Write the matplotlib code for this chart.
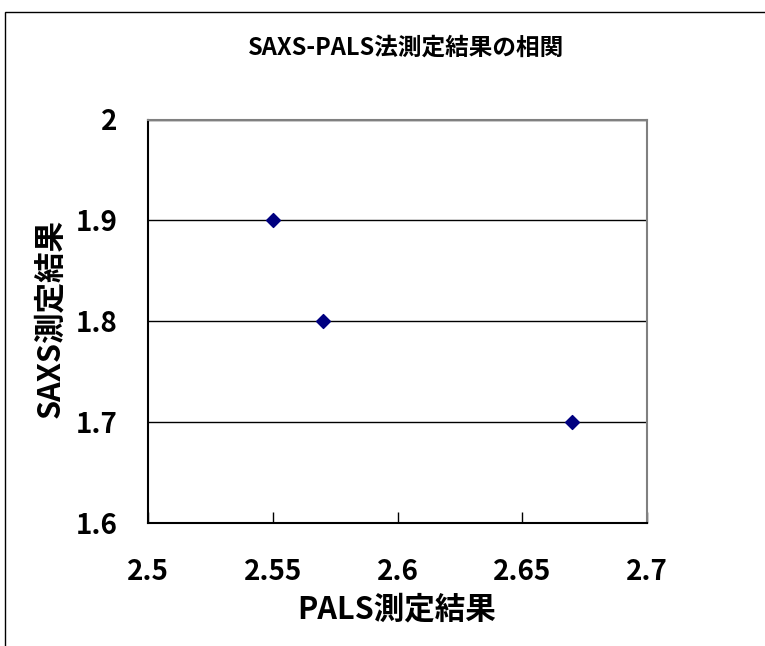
import matplotlib
matplotlib.use("Agg")
import matplotlib.pyplot as plt
from matplotlib.patches import Rectangle

plt.rcParams['font.family'] = ['Noto Sans CJK JP', 'DejaVu Sans']

pals = [2.55, 2.57, 2.67]
saxs = [1.9, 1.8, 1.7]
x_ticks = [2.5, 2.55, 2.6, 2.65, 2.7]
y_ticks = [1.6, 1.7, 1.8, 1.9, 2.0]
x_tick_labels = ["2.5", "2.55", "2.6", "2.65", "2.7"]
y_tick_labels = ["1.6", "1.7", "1.8", "1.9", "2"]
title = "SAXS-PALS法測定結果の相関"
xlabel = "PALS測定結果"
ylabel = "SAXS測定結果"

W, H = 765, 646
fig = plt.figure(figsize=(W/100, H/100), dpi=100)

# outer chart frame
fig.patches.append(Rectangle((5/W, -0.1), 1.2, 1 - 12/H + 0.1, transform=fig.transFigure,
                             fill=False, edgecolor='black', linewidth=1.0))

ax = fig.add_axes([148/W, 1 - 523/H, (647-148)/W, (523-119.5)/H])
ax.scatter(pals, saxs, marker='D', s=50, color='#000080', zorder=5)

ax.set_xlim(2.5, 2.7)
ax.set_ylim(1.6, 2.0)
ax.set_xticks(x_ticks)
ax.set_xticklabels(x_tick_labels)
ax.set_yticks(y_ticks)
ax.set_yticklabels(y_tick_labels)
ax.tick_params(axis='x', direction='in', length=8, width=1, labelsize=20, pad=25)
ax.tick_params(axis='y', direction='in', length=0, labelsize=20, pad=22)
for lab in ax.get_xticklabels() + ax.get_yticklabels():
    lab.set_fontweight('bold')

ax.yaxis.grid(True, color='black', linewidth=1.0)
ax.set_axisbelow(True)
for s in ['top', 'right']:
    ax.spines[s].set_color('#808080')
    ax.spines[s].set_linewidth(1.5)
    ax.spines[s].set_zorder(3)
for s in ['left', 'bottom']:
    ax.spines[s].set_color('black')
    ax.spines[s].set_linewidth(1.5)
    ax.spines[s].set_zorder(3)

fig.text(406/W, 1 - 48/H, title, ha='center', va='center', fontsize=17, fontweight='bold')
fig.text(397/W, 1 - 610/H, xlabel, ha='center', va='center', fontsize=22, fontweight='bold')
fig.text(50/W, 1 - 318/H, ylabel, ha='center', va='center', rotation=90, fontsize=22, fontweight='bold')

fig.savefig("out.png", dpi=100)
